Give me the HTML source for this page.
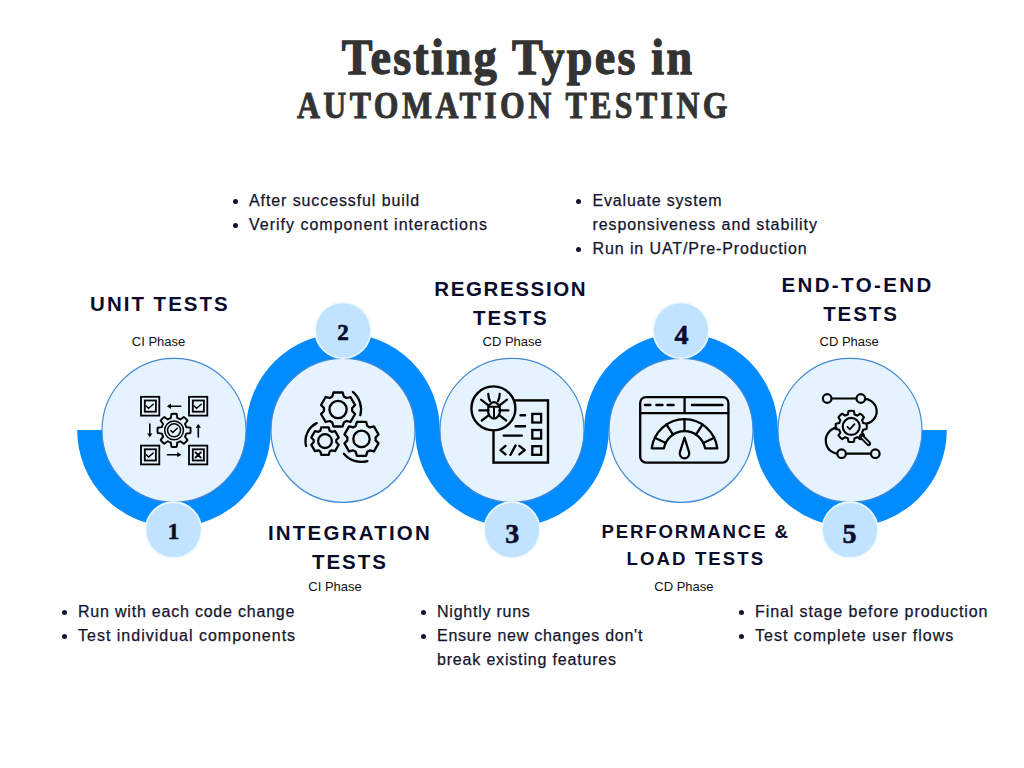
<!DOCTYPE html>
<html><head><meta charset="utf-8">
<style>
html,body{margin:0;padding:0;background:#fff;}
body{width:1024px;height:768px;position:relative;overflow:hidden;font-family:"Liberation Sans",sans-serif;}
.t1{position:absolute;left:0;width:1024px;text-align:center;font-family:"Liberation Serif",serif;font-weight:bold;color:#333;white-space:nowrap;}
.hd{position:absolute;font-family:"Liberation Sans",sans-serif;font-weight:bold;color:#0b0c2c;font-size:20px;letter-spacing:2px;line-height:29px;text-align:center;white-space:nowrap;}
.ph{position:absolute;font-size:13px;color:#111;white-space:nowrap;line-height:16px;}
.ul{position:absolute;font-size:16px;line-height:24px;color:#14152e;white-space:nowrap;letter-spacing:0.6px;-webkit-text-stroke:0.25px #14152e;}
.ul div{position:relative;}
.ul div.b::before{content:"";position:absolute;left:-16.5px;top:10px;width:5px;height:5px;border-radius:50%;background:#14152e;}
svg{position:absolute;left:0;top:0;}
</style></head><body>
<div class="t1" style="left:5.5px;top:28px;font-size:50px;line-height:58px;letter-spacing:2.47px;transform:scaleX(0.92);-webkit-text-stroke:1.3px #333;">Testing Types in</div>
<div class="t1" style="left:1.7px;top:86px;font-size:37px;line-height:40px;letter-spacing:4.0px;transform:scaleX(0.86);-webkit-text-stroke:0.9px #333;">AUTOMATION TESTING</div>

<svg width="1024" height="768" viewBox="0 0 1024 768">
  <path d="M90.6 430 A83.4 83.4 0 0 0 257.4 430 M259.6 430 A83.4 83.4 0 0 1 426.4 430 M428.6 430 A83.4 83.4 0 0 0 595.4 430 M597.6 430 A83.4 83.4 0 0 1 764.4 430 M766.6 430 A83.4 83.4 0 0 0 933.4 430" fill="none" stroke="#008cff" stroke-width="26.8"/>
  <g fill="#e5f2ff" stroke="#4189d4" stroke-width="1.2">
    <circle cx="174" cy="430.3" r="72"/>
    <circle cx="343" cy="430.3" r="72"/>
    <circle cx="512" cy="430.3" r="72"/>
    <circle cx="681" cy="430.3" r="72"/>
    <circle cx="850" cy="430.3" r="72"/>
  </g>
  <g fill="#c2e3ff" stroke="#eefaff" stroke-width="1.6">
    <circle cx="173.5" cy="530" r="27.9"/>
    <circle cx="343" cy="330.3" r="27.9"/>
    <circle cx="512" cy="530" r="27.9"/>
    <circle cx="681" cy="330.3" r="27.9"/>
    <circle cx="850" cy="530" r="27.9"/>
  </g>
  <g font-family="Liberation Serif" font-weight="bold" font-size="23" fill="#0b0c2c" stroke="#0b0c2c" stroke-width="0.6" text-anchor="middle">
    <text x="173.5" y="538.6">1</text>
    <text x="343" y="339.8">2</text>
    <text x="512.2" y="542.6" font-size="28">3</text>
    <text x="681.5" y="343.6" font-size="28">4</text>
    <text x="849.5" y="542.6" font-size="28">5</text>
  </g>
<!--ICONS-->
<g stroke="#000" stroke-linecap="round"><rect x="141.00" y="396.80" width="18.3" height="18.8" fill="none" stroke-width="1.8"/><rect x="144.80" y="400.50" width="11.1" height="11.2" fill="none" stroke-width="1.8"/><path d="M146.30 406.00 L148.60 408.20 L153.20 404.20" fill="none" stroke-width="1.5"/><rect x="189.00" y="396.80" width="18.3" height="18.8" fill="none" stroke-width="1.8"/><rect x="192.80" y="400.50" width="11.1" height="11.2" fill="none" stroke-width="1.8"/><path d="M194.30 406.00 L196.60 408.20 L201.20 404.20" fill="none" stroke-width="1.5"/><rect x="141.00" y="445.60" width="18.3" height="18.8" fill="none" stroke-width="1.8"/><rect x="144.80" y="449.30" width="11.1" height="11.2" fill="none" stroke-width="1.8"/><path d="M146.30 454.80 L148.60 457.00 L153.20 453.00" fill="none" stroke-width="1.5"/><rect x="189.00" y="445.60" width="18.3" height="18.8" fill="none" stroke-width="1.8"/><rect x="192.80" y="449.30" width="11.1" height="11.2" fill="none" stroke-width="1.8"/><path d="M195.50 452.40 L200.80 457.60 M200.80 452.40 L195.50 457.60" fill="none" stroke-width="1.9"/><path d="M168.5 406.25 L180.8 406.25" stroke-width="1.6"/><path d="M167 406.25 L171 403.6 L171 408.9 Z" fill="#000" stroke="none"/><path d="M167.5 454.7 L179.8 454.7" stroke-width="1.6"/><path d="M181.3 454.7 L177.3 452.05 L177.3 457.35 Z" fill="#000" stroke="none"/><path d="M149.8 424.1 L149.8 435.5" stroke-width="1.6"/><path d="M149.8 437.2 L147.15 433.4 L152.45 433.4 Z" fill="#000" stroke="none"/><path d="M198.3 437 L198.3 425.6" stroke-width="1.6"/><path d="M198.3 423.9 L195.65 427.7 L200.95 427.7 Z" fill="#000" stroke="none"/><path d="M177.32 418.18 L176.65 413.95 A16.60 16.60 0 0 0 171.47 413.95 L170.80 418.18 A12.60 12.60 0 0 0 167.76 419.44 L164.30 416.92 A16.60 16.60 0 0 0 160.63 420.59 L163.15 424.05 A12.60 12.60 0 0 0 161.89 427.09 L157.66 427.76 A16.60 16.60 0 0 0 157.66 432.94 L161.89 433.61 A12.60 12.60 0 0 0 163.15 436.65 L160.63 440.11 A16.60 16.60 0 0 0 164.30 443.78 L167.76 441.26 A12.60 12.60 0 0 0 170.80 442.52 L171.47 446.75 A16.60 16.60 0 0 0 176.65 446.75 L177.32 442.52 A12.60 12.60 0 0 0 180.36 441.26 L183.82 443.78 A16.60 16.60 0 0 0 187.49 440.11 L184.97 436.65 A12.60 12.60 0 0 0 186.23 433.61 L190.46 432.94 A16.60 16.60 0 0 0 190.46 427.76 L186.23 427.09 A12.60 12.60 0 0 0 184.97 424.05 L187.49 420.59 A16.60 16.60 0 0 0 183.82 416.92 L180.36 419.44 A12.60 12.60 0 0 0 177.32 418.18 Z" fill="none" stroke-width="1.9" stroke-linejoin="round"/><circle cx="174.06" cy="430.35" r="9.4" fill="none" stroke-width="1.5"/><circle cx="174.06" cy="430.35" r="6.5" fill="none" stroke-width="1.5"/><path d="M170.9 430.6 L172.9 432.5 L177.2 428.3" fill="none" stroke-width="1.5"/></g>
<g stroke="#000" stroke-linecap="round"><path d="M343.86 396.54 L342.66 392.51 L333.46 392.51 L332.26 396.54 L329.74 398.00 L325.65 397.02 L321.05 404.99 L323.94 408.04 L323.94 410.96 L321.05 414.01 L325.65 421.98 L329.74 421.00 L332.26 422.46 L333.46 426.49 L342.66 426.49 L343.86 422.46 L346.38 421.00 L350.47 421.98 L355.07 414.01 L352.18 410.96 L352.18 408.04 L355.07 404.99 L350.47 397.02 L346.38 398.00 Z" fill="none" stroke-width="2.3" stroke-linejoin="round"/><circle cx="338.06" cy="409.5" r="8.6" fill="none" stroke-width="2.3"/><path d="M352.84 391.88 A23.00 23.00 0 0 1 360.33 415.26" fill="none" stroke-width="2.3"/><path d="M329.70 430.71 L328.70 427.39 L321.30 427.39 L320.30 430.71 L318.36 431.84 L314.98 431.04 L311.28 437.45 L313.66 439.98 L313.66 442.22 L311.28 444.75 L314.98 451.16 L318.36 450.36 L320.30 451.49 L321.30 454.81 L328.70 454.81 L329.70 451.49 L331.64 450.36 L335.02 451.16 L338.72 444.75 L336.34 442.22 L336.34 439.98 L338.72 437.45 L335.02 431.04 L331.64 431.84 Z" fill="none" stroke-width="2.3" stroke-linejoin="round"/><circle cx="325" cy="441.1" r="6.9" fill="none" stroke-width="2.3"/><path d="M316.73 423.12 A20.00 20.00 0 0 0 306.09 445.94" fill="none" stroke-width="2.3"/><path d="M367.30 425.94 L366.10 421.91 L356.90 421.91 L355.70 425.94 L353.18 427.40 L349.09 426.42 L344.49 434.39 L347.38 437.44 L347.38 440.36 L344.49 443.41 L349.09 451.38 L353.18 450.40 L355.70 451.86 L356.90 455.89 L366.10 455.89 L367.30 451.86 L369.82 450.40 L373.91 451.38 L378.51 443.41 L375.62 440.36 L375.62 437.44 L378.51 434.39 L373.91 426.42 L369.82 427.40 Z" fill="none" stroke-width="2.3" stroke-linejoin="round"/><circle cx="361.5" cy="438.9" r="8.2" fill="none" stroke-width="2.3"/><path d="M343.88 453.68 A23.00 23.00 0 0 0 367.45 461.12" fill="none" stroke-width="2.3"/></g>
<g stroke="#000" stroke-linecap="round"><rect x="493.5" y="400.4" width="54.5" height="62.2" fill="none" stroke-width="2.4"/><rect x="532.3" y="413.9" width="8.8" height="8.6" fill="none" stroke-width="2.3"/><rect x="532.3" y="430.0" width="8.8" height="8.6" fill="none" stroke-width="2.3"/><rect x="532.3" y="446.2" width="8.8" height="8.6" fill="none" stroke-width="2.3"/><path d="M520.5 415.2 L525.1 415.2 M515.6 426.2 L525.1 426.2 M503.7 435.6 L521.8 435.6" stroke-width="2.4"/><path d="M505.5 445.9 L500.5 450.1 L505.5 454.4 M515.6 445.4 L510.4 454.9 M519.3 445.9 L524.8 450.1 L519.3 454.4" fill="none" stroke-width="2.3" stroke-linejoin="round"/><circle cx="493.4" cy="408.4" r="22" fill="#e5f2ff" stroke-width="2.4"/><ellipse cx="494" cy="410.4" rx="6" ry="8.2" fill="none" stroke-width="2.2"/><path d="M488.2 406.8 L499.8 406.8 M494 406.8 L494 417" stroke-width="2"/><path d="M490 401.2 Q488.3 397.5 488.3 393.9 M498 401.2 Q499.7 397.5 499.7 393.9 M488.8 405.6 L481 399.6 M499.2 405.6 L507 399.6 M488.6 410.4 L479.4 410.4 M499.4 410.4 L508.4 410.4 M488.9 415.2 L481.8 420.5 M499.1 415.2 L506.2 420.5" fill="none" stroke-width="2.2"/></g>
<g stroke="#000" stroke-linecap="round"><rect x="640.2" y="397.1" width="88.2" height="65.5" rx="5.8" fill="none" stroke-width="2.3"/><path d="M640.2 413.1 L728.4 413.1 M684.6 397.1 L684.6 413.1" stroke-width="2.3"/><path d="M645 405 L650.4 405 M656.4 405 L662.4 405 M667.6 405 L673.6 405 M692 404.9 L722.4 404.9" stroke-width="2.5"/><path d="M651.73 448.30 A33.0 33.0 0 0 1 717.27 448.30 L705.13 448.30 A21.0 21.0 0 0 0 663.87 448.30 Z" fill="none" stroke-width="2.3" stroke-linejoin="round"/><path d="M703.37 442.99 L714.16 437.73" stroke-width="2.3"/><path d="M695.94 434.59 L702.47 424.52" stroke-width="2.3"/><path d="M684.50 431.20 L684.50 419.20" stroke-width="2.3"/><path d="M673.06 434.59 L666.53 424.52" stroke-width="2.3"/><path d="M665.63 442.99 L654.84 437.73" stroke-width="2.3"/><path d="M684.50 437.60 L689.08 452.16 A4.80 4.80 0 1 1 679.92 452.16 Z" fill="none" stroke-width="2.2" stroke-linejoin="round"/></g>
<g stroke="#000" stroke-linecap="round"><path d="M827.2 398.5 L860.8 398.5 M862 399.2 A12.3 12.3 0 0 1 866.5 423.6" fill="none" stroke-width="2.2"/><path d="M836.5 427.6 A12.6 12.6 0 0 0 841.6 453.7 L875.3 453.7" fill="none" stroke-width="2.2"/><path d="M854.56 414.46 L853.89 411.03 A15.60 15.60 0 0 0 848.51 411.03 L847.84 414.46 A12.40 12.40 0 0 0 845.13 415.59 L842.23 413.63 A15.60 15.60 0 0 0 838.43 417.43 L840.39 420.33 A12.40 12.40 0 0 0 839.26 423.04 L835.83 423.71 A15.60 15.60 0 0 0 835.83 429.09 L839.26 429.76 A12.40 12.40 0 0 0 840.39 432.47 L838.43 435.37 A15.60 15.60 0 0 0 842.23 439.17 L845.13 437.21 A12.40 12.40 0 0 0 847.84 438.34 L848.51 441.77 A15.60 15.60 0 0 0 853.89 441.77 L854.56 438.34 A12.40 12.40 0 0 0 857.27 437.21 L860.17 439.17 A15.60 15.60 0 0 0 863.97 435.37 L862.01 432.47 A12.40 12.40 0 0 0 863.14 429.76 L866.57 429.09 A15.60 15.60 0 0 0 866.57 423.71 L863.14 423.04 A12.40 12.40 0 0 0 862.01 420.33 L863.97 417.43 A15.60 15.60 0 0 0 860.17 413.63 L857.27 415.59 A12.40 12.40 0 0 0 854.56 414.46 Z" fill="none" stroke-width="2.1" stroke-linejoin="round"/><path d="M861.2 436.2 L868.6 443.6" stroke="#000" stroke-width="5"/><path d="M862.4 437.4 L868.3 443.3" stroke="#e5f2ff" stroke-width="1.3"/><circle cx="851.2" cy="426.4" r="8.5" fill="#e5f2ff" stroke-width="2.1"/><path d="M847.4 426.9 L849.8 429.3 L854.5 424.1" fill="none" stroke-width="1.7"/><circle cx="827.2" cy="398.5" r="4.3" fill="#e5f2ff" stroke-width="2.2"/><circle cx="860.8" cy="398.5" r="4.3" fill="#e5f2ff" stroke-width="2.2"/><circle cx="841.6" cy="453.7" r="4.3" fill="#e5f2ff" stroke-width="2.2"/><circle cx="875.3" cy="453.7" r="4.3" fill="#e5f2ff" stroke-width="2.2"/></g>
<!--/ICONS-->
</svg>

<div class="hd" style="left:90.10px;top:291.90px;font-size:20.5px;line-height:24.60px;letter-spacing:2.000px;">UNIT TESTS</div>
<div class="hd" style="left:267.90px;top:521.30px;font-size:20.5px;line-height:24.60px;letter-spacing:2.220px;">INTEGRATION</div>
<div class="hd" style="left:311.90px;top:550.30px;font-size:20.5px;line-height:24.60px;letter-spacing:2.000px;">TESTS</div>
<div class="hd" style="left:434.30px;top:276.60px;font-size:20.5px;line-height:24.60px;letter-spacing:1.622px;">REGRESSION</div>
<div class="hd" style="left:473.10px;top:305.50px;font-size:20.5px;line-height:24.60px;letter-spacing:1.900px;">TESTS</div>
<div class="hd" style="left:601.40px;top:520.60px;font-size:18.6px;line-height:22.32px;letter-spacing:1.850px;">PERFORMANCE &amp;</div>
<div class="hd" style="left:626.60px;top:547.90px;font-size:18.6px;line-height:22.32px;letter-spacing:2.089px;">LOAD TESTS</div>
<div class="hd" style="left:781.40px;top:272.90px;font-size:20.5px;line-height:24.60px;letter-spacing:2.400px;">END-TO-END</div>
<div class="hd" style="left:823.20px;top:301.80px;font-size:20.5px;line-height:24.60px;letter-spacing:1.900px;">TESTS</div>
<div class="ph" style="left:131.80px;top:334.40px;">CI Phase</div>
<div class="ph" style="left:308.30px;top:579.30px;">CI Phase</div>
<div class="ph" style="left:482.50px;top:334.30px;">CD Phase</div>
<div class="ph" style="left:654.30px;top:578.70px;">CD Phase</div>
<div class="ph" style="left:819.50px;top:333.70px;">CD Phase</div>

<div class="ul" style="left:249px;top:188.8px;">
  <div class="b" style="letter-spacing:0.9px">After successful build</div>
  <div class="b" style="letter-spacing:1.0px">Verify component interactions</div>
</div>
<div class="ul" style="left:592.5px;top:188.8px;">
  <div class="b" style="letter-spacing:0.83px">Evaluate system</div>
  <div style="letter-spacing:0.9px">responsiveness and stability</div>
  <div class="b" style="letter-spacing:0.9px">Run in UAT/Pre-Production</div>
</div>
<div class="ul" style="left:78px;top:599.8px;">
  <div class="b" style="letter-spacing:0.79px">Run with each code change</div>
  <div class="b" style="letter-spacing:1.0px">Test individual components</div>
</div>
<div class="ul" style="left:437px;top:599.8px;">
  <div class="b" style="letter-spacing:0.76px">Nightly runs</div>
  <div class="b" style="letter-spacing:0.75px">Ensure new changes don't</div>
  <div style="letter-spacing:0.82px">break existing features</div>
</div>
<div class="ul" style="left:755px;top:599.8px;">
  <div class="b" style="letter-spacing:0.9px">Final stage before production</div>
  <div class="b" style="letter-spacing:1.0px">Test complete user flows</div>
</div>
</body></html>
